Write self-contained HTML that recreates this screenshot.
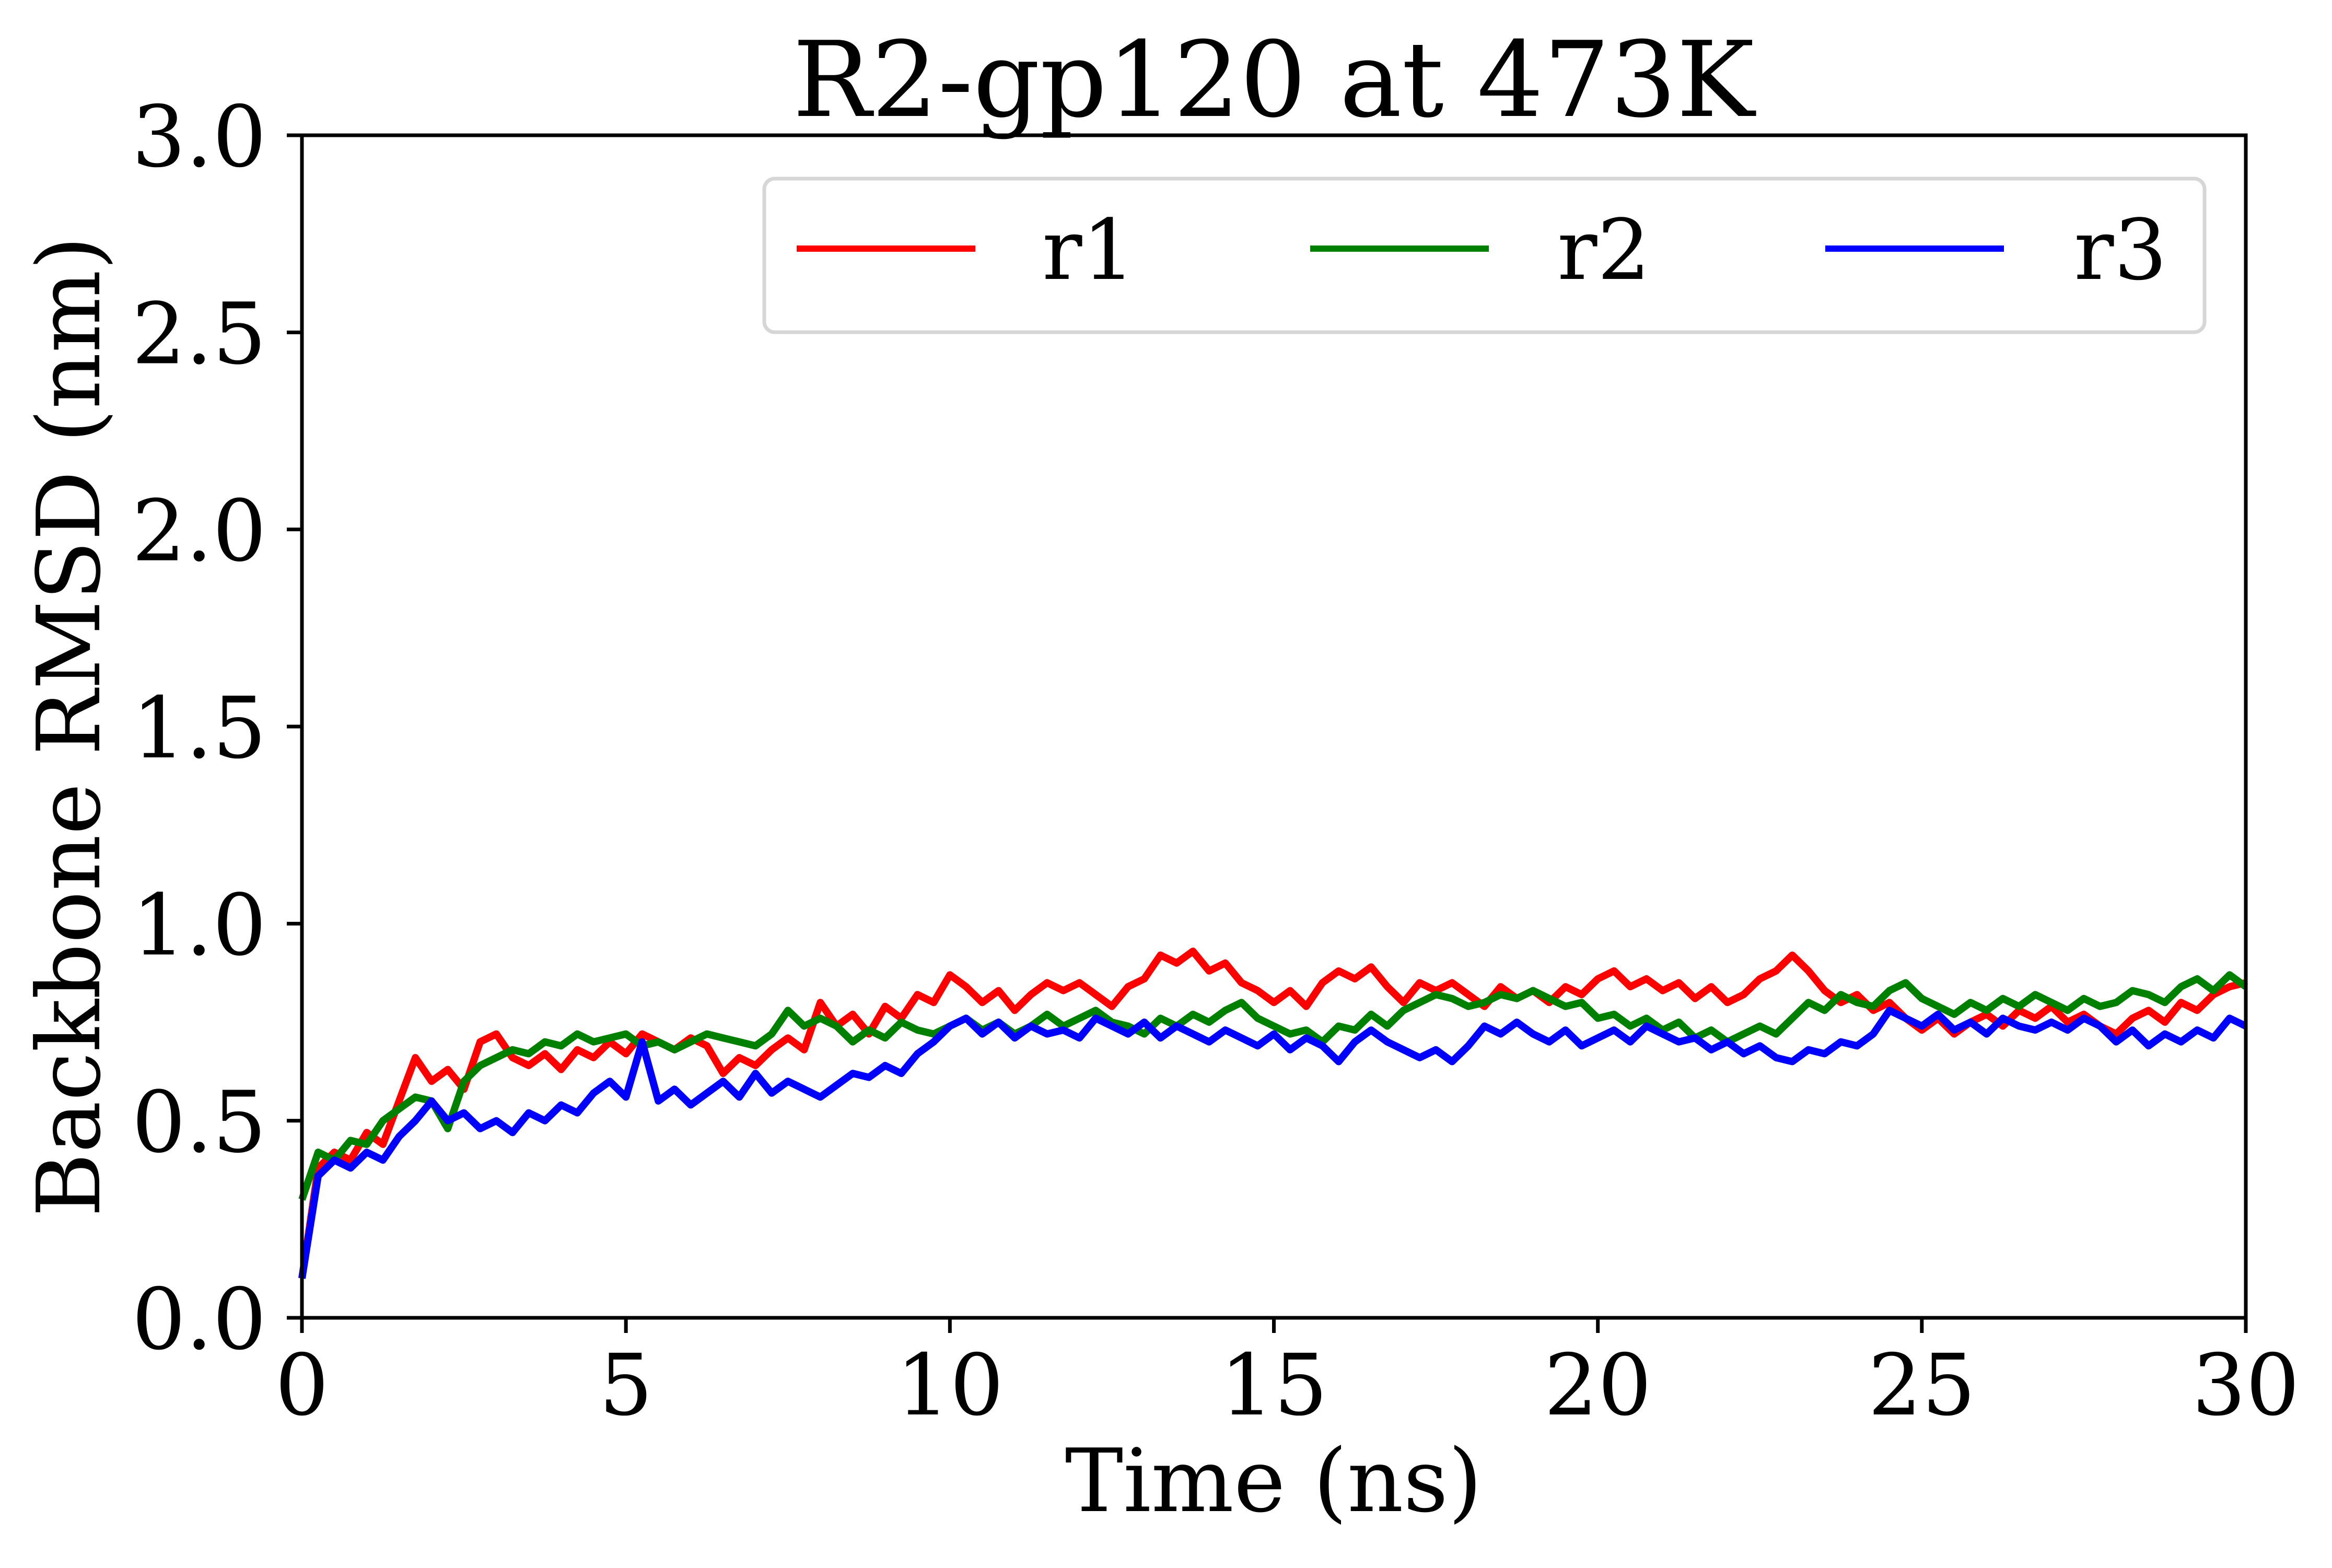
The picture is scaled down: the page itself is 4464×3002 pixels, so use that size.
<!DOCTYPE html>
<html><head><meta charset="utf-8"><style>
html,body{margin:0;padding:0;background:#fff}
svg text{font-family:"DejaVu Serif","Liberation Serif",serif;fill:#000}
</style></head><body>
<svg id="chart" width="4464" height="2997" viewBox="0 0 4464 2997" xmlns="http://www.w3.org/2000/svg">
<rect width="4464" height="2997" fill="#fff"/>
<text x="2438" y="222" font-size="200" text-anchor="middle">R2-gp120 at 473K</text>
<text x="0" y="0" font-size="167" text-anchor="middle" transform="translate(190,1391) rotate(-90)">Backbone RMSD (nm)</text>
<text x="2438" y="2893" font-size="167" text-anchor="middle">Time (ns)</text>
<g id="series"></g>
<g id="ticks"></g>
<rect x="578" y="259" width="3721" height="2264" fill="none" stroke="#000" stroke-width="7"/>
<g>
<rect x="1463" y="342" width="2757" height="294" rx="20" fill="#fff" fill-opacity="0.8" stroke="#d6d6d6" stroke-width="7"/>
<line x1="1525" y1="476" x2="1867" y2="476" stroke="#ff0000" stroke-width="12"/>
<text x="1995" y="534" font-size="160">r1</text>
<line x1="2508" y1="476" x2="2850" y2="476" stroke="#008000" stroke-width="12"/>
<text x="2981" y="534" font-size="160">r2</text>
<line x1="3494" y1="476" x2="3836" y2="476" stroke="#0000ff" stroke-width="12"/>
<text x="3970" y="534" font-size="160">r3</text>
</g>
</svg>
<script>
const timeStep = 0.25;
const r1 = [0.10,0.38,0.42,0.40, 0.47,0.44,0.55,0.66, 0.60,0.63,0.58,0.70, 0.72,0.66,0.64,0.67, 0.63,0.68,0.66,0.70, 0.67,0.72,0.70,0.68, 0.71,0.69,0.62,0.66, 0.64,0.68,0.71,0.68, 0.80,0.74,0.77,0.72, 0.79,0.76,0.82,0.80, 0.87,0.84,0.80,0.83, 0.78,0.82,0.85,0.83, 0.85,0.82,0.79,0.84, 0.86,0.92,0.90,0.93, 0.88,0.90,0.85,0.83, 0.80,0.83,0.79,0.85, 0.88,0.86,0.89,0.84, 0.80,0.85,0.83,0.85, 0.82,0.79,0.84,0.81, 0.83,0.80,0.84,0.82, 0.86,0.88,0.84,0.86, 0.83,0.85,0.81,0.84, 0.80,0.82,0.86,0.88, 0.92,0.88,0.83,0.80, 0.82,0.78,0.80,0.76, 0.73,0.76,0.72,0.75, 0.77,0.74,0.78,0.76, 0.79,0.75,0.77,0.74, 0.72,0.76,0.78,0.75, 0.80,0.78,0.82,0.84, 0.85];
const r2 = [0.30,0.42,0.40,0.45, 0.44,0.50,0.53,0.56, 0.55,0.48,0.60,0.64, 0.66,0.68,0.67,0.70, 0.69,0.72,0.70,0.71, 0.72,0.69,0.70,0.68, 0.70,0.72,0.71,0.70, 0.69,0.72,0.78,0.74, 0.76,0.74,0.70,0.73, 0.71,0.75,0.73,0.72, 0.74,0.76,0.73,0.75, 0.72,0.74,0.77,0.74, 0.76,0.78,0.75,0.74, 0.72,0.76,0.74,0.77, 0.75,0.78,0.80,0.76, 0.74,0.72,0.73,0.70, 0.74,0.73,0.77,0.74, 0.78,0.80,0.82,0.81, 0.79,0.80,0.82,0.81, 0.83,0.81,0.79,0.80, 0.76,0.77,0.74,0.76, 0.73,0.75,0.71,0.73, 0.70,0.72,0.74,0.72, 0.76,0.80,0.78,0.82, 0.80,0.79,0.83,0.85, 0.81,0.79,0.77,0.80, 0.78,0.81,0.79,0.82, 0.80,0.78,0.81,0.79, 0.80,0.83,0.82,0.80, 0.84,0.86,0.83,0.87, 0.84];
const r3 = [0.10,0.36,0.40,0.38, 0.42,0.40,0.46,0.50, 0.55,0.50,0.52,0.48, 0.50,0.47,0.52,0.50, 0.54,0.52,0.57,0.60, 0.56,0.70,0.55,0.58, 0.54,0.57,0.60,0.56, 0.62,0.57,0.60,0.58, 0.56,0.59,0.62,0.61, 0.64,0.62,0.67,0.70, 0.74,0.76,0.72,0.75, 0.71,0.74,0.72,0.73, 0.71,0.76,0.74,0.72, 0.75,0.71,0.74,0.72, 0.70,0.73,0.71,0.69, 0.72,0.68,0.71,0.69, 0.65,0.70,0.73,0.70, 0.68,0.66,0.68,0.65, 0.69,0.74,0.72,0.75, 0.72,0.70,0.73,0.69, 0.71,0.73,0.70,0.74, 0.72,0.70,0.71,0.68, 0.70,0.67,0.69,0.66, 0.65,0.68,0.67,0.70, 0.69,0.72,0.78,0.76, 0.74,0.77,0.73,0.75, 0.72,0.76,0.74,0.73, 0.75,0.73,0.76,0.74, 0.70,0.73,0.69,0.72, 0.70,0.73,0.71,0.76, 0.74];
const seriesNames = ["r1","r2","r3"];
const seriesColors = ["#ff0000","#008000","#0000ff"];
const xTicks = [0,5,10,15,20,25,30];
const yTicks = ["0.0","0.5","1.0","1.5","2.0","2.5","3.0"];

const X0=578, X1=4299, Y0=2523, Y1=259, XMAX=30, YMAX=3;
function xs(t){return X0+(X1-X0)*t/XMAX;}
function ys(v){return Y0-(Y0-Y1)*v/YMAX;}
const NS="http://www.w3.org/2000/svg";
const sg=document.getElementById('series');
[r1,r2,r3].forEach((arr,k)=>{
  const p=document.createElementNS(NS,'polyline');
  p.setAttribute('points',arr.map((v,i)=>xs(i*timeStep).toFixed(1)+','+ys(v).toFixed(1)).join(' '));
  p.setAttribute('fill','none');
  p.setAttribute('stroke',seriesColors[k]);
  p.setAttribute('stroke-width','14');
  p.setAttribute('stroke-linejoin','round');
  
  
  sg.appendChild(p);
});
const tg=document.getElementById('ticks');
xTicks.forEach(t=>{
  const l=document.createElementNS(NS,'line');
  l.setAttribute('x1',xs(t));l.setAttribute('x2',xs(t));
  l.setAttribute('y1',Y0);l.setAttribute('y2',Y0+29);
  l.setAttribute('stroke','#000');l.setAttribute('stroke-width','7');
  
  
  tg.appendChild(l);
  const tx=document.createElementNS(NS,'text');
  tx.setAttribute('x',xs(t));tx.setAttribute('y',2708);
  tx.setAttribute('font-size','162');tx.setAttribute('text-anchor','middle');
  tx.textContent=String(t);
  
  
  tg.appendChild(tx);
});
yTicks.forEach(s=>{
  const v=parseFloat(s);
  const l=document.createElementNS(NS,'line');
  l.setAttribute('x1',X0-29);l.setAttribute('x2',X0);
  l.setAttribute('y1',ys(v));l.setAttribute('y2',ys(v));
  l.setAttribute('stroke','#000');l.setAttribute('stroke-width','7');
  
  
  tg.appendChild(l);
  const tx=document.createElementNS(NS,'text');
  tx.setAttribute('x',510);tx.setAttribute('y',ys(v)+59);
  tx.setAttribute('font-size','162');tx.setAttribute('text-anchor','end');
  tx.textContent=s;
  
  
  tg.appendChild(tx);
});
</script>
</body></html>
